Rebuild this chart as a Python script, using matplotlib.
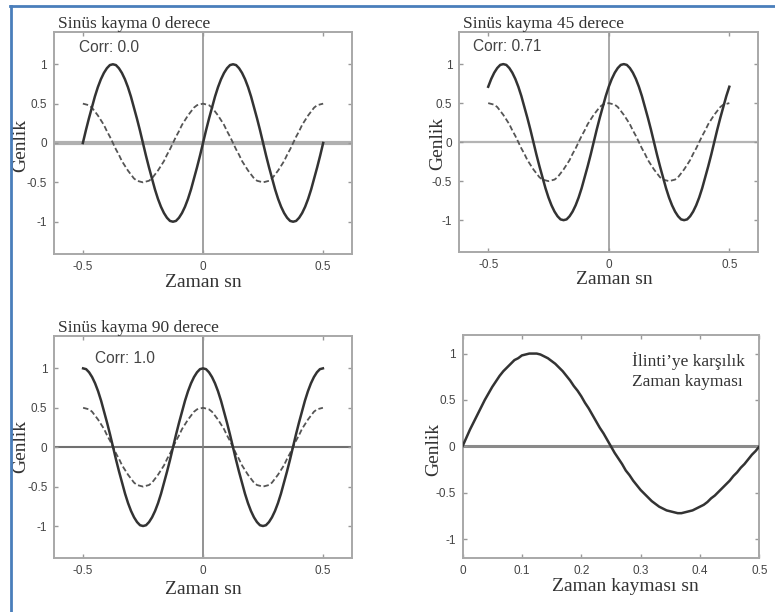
import matplotlib
matplotlib.use("Agg")
from matplotlib import pyplot as plt
from matplotlib.lines import Line2D

# sample times (s) for the three shifted-sine panels
t_sec = [-0.5, -0.4875, -0.475, -0.4625, -0.45, -0.4375, -0.425, -0.4125, -0.4, -0.3875,
         -0.375, -0.3625, -0.35, -0.3375, -0.325, -0.3125, -0.3, -0.2875, -0.275, -0.2625,
         -0.25, -0.2375, -0.225, -0.2125, -0.2, -0.1875, -0.175, -0.1625, -0.15, -0.1375,
         -0.125, -0.1125, -0.1, -0.0875, -0.075, -0.0625, -0.05, -0.0375, -0.025, -0.0125,
         0.0, 0.0125, 0.025, 0.0375, 0.05, 0.0625, 0.075, 0.0875, 0.1, 0.1125,
         0.125, 0.1375, 0.15, 0.1625, 0.175, 0.1875, 0.2, 0.2125, 0.225, 0.2375,
         0.25, 0.2625, 0.275, 0.2875, 0.3, 0.3125, 0.325, 0.3375, 0.35, 0.3625,
         0.375, 0.3875, 0.4, 0.4125, 0.425, 0.4375, 0.45, 0.4625, 0.475, 0.4875,
         0.5]

# reference wave (dashed), same in all three panels
ref_wave = [0.5, 0.49, 0.48, 0.45, 0.40, 0.35, 0.29, 0.23, 0.15, 0.08,
            0.0, -0.08, -0.15, -0.23, -0.29, -0.35, -0.40, -0.45, -0.48, -0.49,
            -0.5, -0.49, -0.48, -0.45, -0.40, -0.35, -0.29, -0.23, -0.15, -0.08,
            0.0, 0.08, 0.15, 0.23, 0.29, 0.35, 0.40, 0.45, 0.48, 0.49,
            0.5, 0.49, 0.48, 0.45, 0.40, 0.35, 0.29, 0.23, 0.15, 0.08,
            0.0, -0.08, -0.15, -0.23, -0.29, -0.35, -0.40, -0.45, -0.48, -0.49,
            -0.5, -0.49, -0.48, -0.45, -0.40, -0.35, -0.29, -0.23, -0.15, -0.08,
            0.0, 0.08, 0.15, 0.23, 0.29, 0.35, 0.40, 0.45, 0.48, 0.49,
            0.5]

shift_0 = [0.0, 0.16, 0.31, 0.45, 0.59, 0.71, 0.81, 0.89, 0.95, 0.99,
           1.0, 0.99, 0.95, 0.89, 0.81, 0.71, 0.59, 0.45, 0.31, 0.16,
           0.0, -0.16, -0.31, -0.45, -0.59, -0.71, -0.81, -0.89, -0.95, -0.99,
           -1.0, -0.99, -0.95, -0.89, -0.81, -0.71, -0.59, -0.45, -0.31, -0.16,
           0.0, 0.16, 0.31, 0.45, 0.59, 0.71, 0.81, 0.89, 0.95, 0.99,
           1.0, 0.99, 0.95, 0.89, 0.81, 0.71, 0.59, 0.45, 0.31, 0.16,
           0.0, -0.16, -0.31, -0.45, -0.59, -0.71, -0.81, -0.89, -0.95, -0.99,
           -1.0, -0.99, -0.95, -0.89, -0.81, -0.71, -0.59, -0.45, -0.31, -0.16,
           0.0]

shift_45 = [0.71, 0.81, 0.89, 0.95, 0.99, 1.0, 0.99, 0.95, 0.89, 0.81,
            0.71, 0.59, 0.45, 0.31, 0.16, 0.0, -0.16, -0.31, -0.45, -0.59,
            -0.71, -0.81, -0.89, -0.95, -0.99, -1.0, -0.99, -0.95, -0.89, -0.81,
            -0.71, -0.59, -0.45, -0.31, -0.16, 0.0, 0.16, 0.31, 0.45, 0.59,
            0.71, 0.81, 0.89, 0.95, 0.99, 1.0, 0.99, 0.95, 0.89, 0.81,
            0.71, 0.59, 0.45, 0.31, 0.16, 0.0, -0.16, -0.31, -0.45, -0.59,
            -0.71, -0.81, -0.89, -0.95, -0.99, -1.0, -0.99, -0.95, -0.89, -0.81,
            -0.71, -0.59, -0.45, -0.31, -0.16, 0.0, 0.16, 0.31, 0.45, 0.59,
            0.71]

shift_90 = [1.0, 0.99, 0.95, 0.89, 0.81, 0.71, 0.59, 0.45, 0.31, 0.16,
            0.0, -0.16, -0.31, -0.45, -0.59, -0.71, -0.81, -0.89, -0.95, -0.99,
            -1.0, -0.99, -0.95, -0.89, -0.81, -0.71, -0.59, -0.45, -0.31, -0.16,
            0.0, 0.16, 0.31, 0.45, 0.59, 0.71, 0.81, 0.89, 0.95, 0.99,
            1.0, 0.99, 0.95, 0.89, 0.81, 0.71, 0.59, 0.45, 0.31, 0.16,
            0.0, -0.16, -0.31, -0.45, -0.59, -0.71, -0.81, -0.89, -0.95, -0.99,
            -1.0, -0.99, -0.95, -0.89, -0.81, -0.71, -0.59, -0.45, -0.31, -0.16,
            0.0, 0.16, 0.31, 0.45, 0.59, 0.71, 0.81, 0.89, 0.95, 0.99,
            1.0]

# correlation vs time shift (bottom right)
lag_sec = [0.0, 0.00625, 0.0125, 0.01875, 0.025, 0.03125, 0.0375, 0.04375, 0.05, 0.05625,
           0.0625, 0.06875, 0.075, 0.08125, 0.0875, 0.09375, 0.1, 0.10625, 0.1125, 0.11875,
           0.125, 0.13125, 0.1375, 0.14375, 0.15, 0.15625, 0.1625, 0.16875, 0.175, 0.18125,
           0.1875, 0.19375, 0.2, 0.20625, 0.2125, 0.21875, 0.225, 0.23125, 0.2375, 0.24375,
           0.25, 0.25625, 0.2625, 0.26875, 0.275, 0.28125, 0.2875, 0.29375, 0.3, 0.30625,
           0.3125, 0.31875, 0.325, 0.33125, 0.3375, 0.34375, 0.35, 0.35625, 0.3625, 0.36875,
           0.375, 0.38125, 0.3875, 0.39375, 0.4, 0.40625, 0.4125, 0.41875, 0.425, 0.43125,
           0.4375, 0.44375, 0.45, 0.45625, 0.4625, 0.46875, 0.475, 0.48125, 0.4875, 0.49375,
           0.5]
corr_vals = [0.0, 0.09, 0.18, 0.26, 0.34, 0.42, 0.50, 0.57, 0.64, 0.70,
             0.76, 0.81, 0.85, 0.89, 0.93, 0.95, 0.98, 0.99, 1.0, 1.0,
             1.0, 0.99, 0.97, 0.95, 0.92, 0.89, 0.85, 0.81, 0.76, 0.71,
             0.65, 0.60, 0.54, 0.47, 0.41, 0.34, 0.27, 0.20, 0.14, 0.07,
             0.0, -0.07, -0.13, -0.19, -0.26, -0.31, -0.37, -0.42, -0.47, -0.51,
             -0.55, -0.59, -0.62, -0.65, -0.67, -0.69, -0.70, -0.71, -0.72, -0.72,
             -0.71, -0.70, -0.69, -0.67, -0.65, -0.63, -0.60, -0.56, -0.53, -0.49,
             -0.45, -0.41, -0.37, -0.32, -0.28, -0.23, -0.19, -0.14, -0.09, -0.05,
             0.0]

titles = ["Sinüs kayma 0 derece", "Sinüs kayma 45 derece", "Sinüs kayma 90 derece"]
corr_labels = ["Corr: 0.0", "Corr: 0.71", "Corr: 1.0"]
y_ticks = [-1, -0.5, 0, 0.5, 1]
y_ticklabels = ["-1", "-0.5", "0", "0.5", "1"]
t_ticks = [-0.5, 0, 0.5]
t_ticklabels = ["-0.5", "0", "0.5"]
lag_ticks = [0, 0.1, 0.2, 0.3, 0.4, 0.5]
lag_ticklabels = ["0", "0.1", "0.2", "0.3", "0.4", "0.5"]

SERIF = "Liberation Serif"
SANS = "Liberation Sans"
FRAME = "#a8a8a8"
INK = "#333333"

fig = plt.figure(figsize=(7.75, 6.12), dpi=100)

# axes rectangles in figure fractions (left, bottom, width, height)
rects = [
    [0.0697, 0.585, 0.3845, 0.3627],
    [0.5926, 0.588, 0.3858, 0.3595],
    [0.0701, 0.0877, 0.3837, 0.3632],
    [0.5968, 0.0887, 0.3830, 0.3639],
]
ylabel_xy = [(-0.111, 0.49), (-0.071, 0.492), (-0.112, 0.502), (-0.098, 0.488)]
xlabel_xy = [(0.5, -0.128), (0.517, -0.124), (0.5, -0.138), (0.55, -0.131)]
corr_pos = [(-0.515, 1.21), (-0.565, 1.23), (-0.45, 1.13)]
zero_styles = [
    dict(h=("#b0b0b0", 3.0), v=("#9a9a9a", 1.3)),
    dict(h=("#b4b4b4", 1.6), v=("#9a9a9a", 1.2)),
    dict(h=("#707070", 1.5), v=("#808080", 1.2)),
]
waves = [shift_0, shift_45, shift_90]


def style_axes(ax, i):
    for sp in ax.spines.values():
        sp.set_color(FRAME)
        sp.set_linewidth(1.4)
    ax.tick_params(direction="in", top=True, right=True, length=3,
                   width=1.0, color="#999999", labelcolor="#444444", pad=5)
    for lbl in ax.get_xticklabels() + ax.get_yticklabels():
        lbl.set_fontfamily(SANS)
        lbl.set_fontsize(8.5)
    ax.yaxis.set_label_coords(*ylabel_xy[i])
    ax.xaxis.set_label_coords(*xlabel_xy[i])


for i in range(3):
    ax = fig.add_axes(rects[i])
    hc, hw = zero_styles[i]["h"]
    vc, vw = zero_styles[i]["v"]
    ax.axhline(0, color=hc, lw=hw, zorder=1)
    ax.axvline(0, color=vc, lw=vw, zorder=1)
    ax.plot(t_sec, waves[i], color=INK, lw=1.8, zorder=3)
    ax.plot(t_sec, ref_wave, color="#555555", lw=1.3, ls=(0, (3, 1.5)), zorder=2)
    ax.set_xlim(-0.62, 0.62)
    ax.set_ylim(-1.41, 1.41)
    ax.set_xticks(t_ticks)
    ax.set_xticklabels(t_ticklabels)
    ax.set_yticks(y_ticks)
    ax.set_yticklabels(y_ticklabels)
    ax.set_xlabel("Zaman sn", family=SERIF, fontsize=14, color=INK, va="center")
    ax.set_ylabel("Genlik", family=SERIF, fontsize=14, color=INK, va="center")
    style_axes(ax, i)
    ax.text(0.012, 1.018, titles[i], transform=ax.transAxes, family=SERIF,
            fontsize=12.5, color=INK, va="baseline", ha="left")
    ax.text(corr_pos[i][0], corr_pos[i][1], corr_labels[i], family=SANS,
            fontsize=11.2, color="#444444", va="center", ha="left")

ax = fig.add_axes(rects[3])
ax.axhline(0, color="#8a8a8a", lw=2.2, zorder=1)
ax.plot(lag_sec, corr_vals, color=INK, lw=1.8, zorder=3)
ax.set_xlim(0, 0.5)
ax.set_ylim(-1.2, 1.2)
ax.set_xticks(lag_ticks)
ax.set_xticklabels(lag_ticklabels)
ax.set_yticks(y_ticks)
ax.set_yticklabels(y_ticklabels)
ax.set_xlabel("Zaman kayması sn", family=SERIF, fontsize=14, color=INK, va="center")
ax.set_ylabel("Genlik", family=SERIF, fontsize=14, color=INK, va="center")
style_axes(ax, 3)
ax.text(0.285, 0.92, "İlinti’ye karşılık", family=SERIF, fontsize=12.5,
        color=INK, va="center", ha="left")
ax.text(0.285, 0.69, "Zaman kayması", family=SERIF, fontsize=12.5,
        color=INK, va="center", ha="left")

# blue frame round the figure (only the top and left edges show)
blue = "#4a7ebb"
fig.add_artist(Line2D([10 / 775, 1.0], [1 - 5.5 / 612, 1 - 5.5 / 612],
                      transform=fig.transFigure, color=blue, lw=2.0))
fig.add_artist(Line2D([10.5 / 775, 10.5 / 775], [0.0, 1 - 5.5 / 612],
                      transform=fig.transFigure, color=blue, lw=2.0))

fig.savefig("out.png", dpi=100)
plt.close(fig)
